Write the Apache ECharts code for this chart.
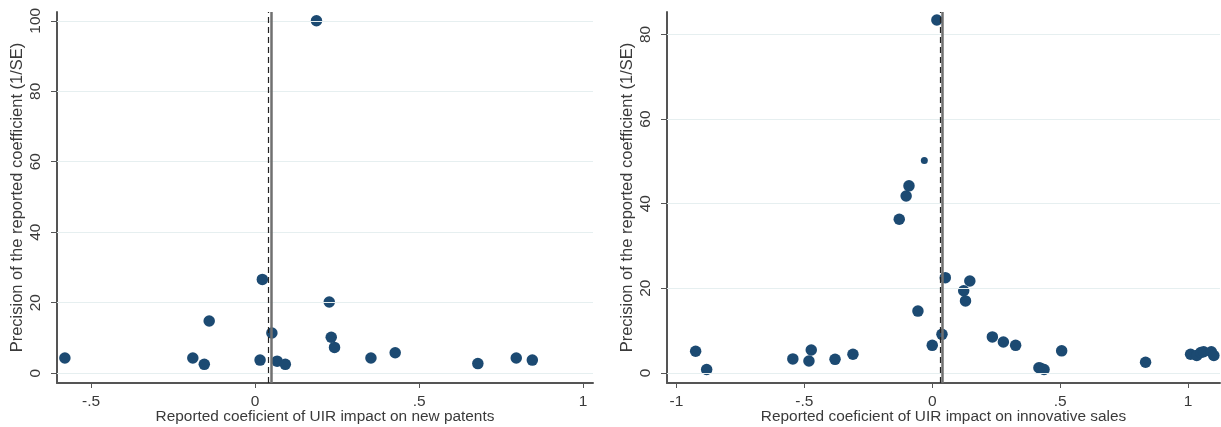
<!DOCTYPE html>
<html>
<head>
<meta charset="utf-8">
<script src="https://cdn.jsdelivr.net/npm/echarts@6/dist/echarts.min.js"></script>
<style>
  html, body { margin: 0; padding: 0; background: #fff; }
  #chart { width: 1221px; height: 427px; }
</style>
</head>
<body>
<div id="chart"></div>
<script>
  // left panel: new patents
  const patentsX = [-0.58, -0.19, -0.155, -0.14, 0.015, 0.022, 0.051, 0.067, 0.092, 0.187, 0.226, 0.232, 0.242, 0.353, 0.427, 0.679, 0.796, 0.845]
  const patentsY = [4.3, 4.3, 2.5, 14.8, 3.7, 26.6, 11.4, 3.4, 2.5, 100, 20.2, 10.2, 7.3, 4.3, 5.8, 2.7, 4.3, 3.7]
  const patentsXTicks = [-0.5, 0, 0.5, 1]
  const patentsYTicks = [0, 20, 40, 60, 80, 100]
  const patentsRefDashed = 0.036
  const patentsRefSolid = 0.046

  // right panel: innovative sales
  const salesX = [-0.925, -0.882, -0.545, -0.482, -0.473, -0.38, -0.31, -0.129, -0.102, -0.091, -0.056, 0.0, 0.018, 0.038, 0.051, 0.123, 0.13, 0.147, 0.235, 0.278, 0.326, 0.417, 0.424, 0.437, 0.506, 0.834, 1.01, 1.034, 1.05, 1.061, 1.091, 1.101]
  const salesY = [5.1, 0.8, 3.3, 2.8, 5.4, 3.2, 4.4, 36.3, 41.8, 44.2, 14.6, 6.5, 83.4, 9.1, 22.5, 19.4, 17, 21.7, 8.5, 7.3, 6.5, 1.2, 1.1, 0.8, 5.2, 2.5, 4.4, 4.1, 4.8, 5.0, 5.0, 4.1]
  const salesSmallX = [-0.031]
  const salesSmallY = [50.2]
  const salesXTicks = [-1, -0.5, 0, 0.5, 1]
  const salesYTicks = [0, 20, 40, 60, 80]
  const salesRefDashed = 0.033
  const salesRefSolid = 0.041

  const dotColor = '#1c4a72'
  const textColor = '#3a3a3a'
  const fontFamily = 'Liberation Sans, Arial, sans-serif'

  const pairs = (xs, ys) => xs.map((x, i) => [x, ys[i]])
  const fmt = v => String(v).replace('0.', '.')

  const makeX = (idx, name, min, max, ticks) => ({
    type: 'value',
    gridIndex: idx,
    min: min,
    max: max,
    name: name,
    nameLocation: 'middle',
    nameGap: 26,
    nameMoveOverlap: false,
    nameTextStyle: { color: textColor, fontSize: 15.4, fontFamily: fontFamily },
    axisLine: { show: true, onZero: false, lineStyle: { color: '#555', width: 2 } },
    axisTick: { show: true, length: 5, customValues: ticks, lineStyle: { color: '#555', width: 1 } },
    axisLabel: { customValues: ticks, formatter: fmt, color: textColor, fontSize: 15.5, fontFamily: fontFamily, margin: 11 },
    splitLine: { show: false },
  })

  const makeY = (idx, min, max, ticks) => ({
    type: 'value',
    gridIndex: idx,
    min: min,
    max: max,
    name: 'Precision of the reported coefficient (1/SE)',
    nameLocation: 'middle',
    nameGap: 31,
    nameMoveOverlap: false,
    nameTextStyle: { color: textColor, fontSize: 16.5, fontFamily: fontFamily },
    axisLine: { show: true, onZero: false, lineStyle: { color: '#555', width: 2 } },
    axisTick: { show: true, length: 6, customValues: ticks, lineStyle: { color: '#555', width: 1 } },
    axisLabel: { customValues: ticks, rotate: 90, color: textColor, fontSize: 15.5, fontFamily: fontFamily, margin: 13 },
    splitLine: { show: false },
  })

  // grid lines + reference lines drawn as markLines
  const refLines = (yTicks, dashed, solid) => ({
    silent: true,
    symbol: 'none',
    label: { show: false },
    animation: false,
    data: [
      ...yTicks.map(t => ({ yAxis: t, lineStyle: { color: '#e6eff0', width: 1, type: 'solid' } })),
      { xAxis: solid, lineStyle: { color: '#707070', width: 2.5, type: 'solid' } },
      { xAxis: dashed, lineStyle: { color: '#222', width: 1.2, type: [6, 4] } },
    ],
  })

  var myChart = echarts.init(document.getElementById('chart'))
  var option = {
    animation: false,
    backgroundColor: '#fff',
    grid: [
      { left: 57, right: 628, top: 12, bottom: 44, outerBoundsMode: 'none' },
      { left: 667, right: 1, top: 12, bottom: 44, outerBoundsMode: 'none' },
    ],
    xAxis: [
      makeX(0, 'Reported coeficient of UIR impact on new patents', -0.604, 1.03, patentsXTicks),
      makeX(1, 'Reported coeficient of UIR impact on innovative sales', -1.037, 1.125, salesXTicks),
    ],
    yAxis: [
      makeY(0, -2.8, 102.5, patentsYTicks),
      makeY(1, -2.4, 85.3, salesYTicks),
    ],
    series: [
      {
        type: 'scatter',
        xAxisIndex: 0,
        yAxisIndex: 0,
        symbolSize: 11.5,
        itemStyle: { color: dotColor, opacity: 1 },
        data: pairs(patentsX, patentsY),
        markLine: refLines(patentsYTicks, patentsRefDashed, patentsRefSolid),
        z: 3,
      },
      {
        type: 'scatter',
        xAxisIndex: 1,
        yAxisIndex: 1,
        symbolSize: 11.5,
        itemStyle: { color: dotColor, opacity: 1 },
        data: pairs(salesX, salesY),
        markLine: refLines(salesYTicks, salesRefDashed, salesRefSolid),
        z: 3,
      },
      {
        type: 'scatter',
        xAxisIndex: 1,
        yAxisIndex: 1,
        symbolSize: 7,
        itemStyle: { color: dotColor, opacity: 1 },
        data: pairs(salesSmallX, salesSmallY),
        z: 3,
      },
    ],
  }

  option && myChart.setOption(option)
</script>
</body>
</html>
